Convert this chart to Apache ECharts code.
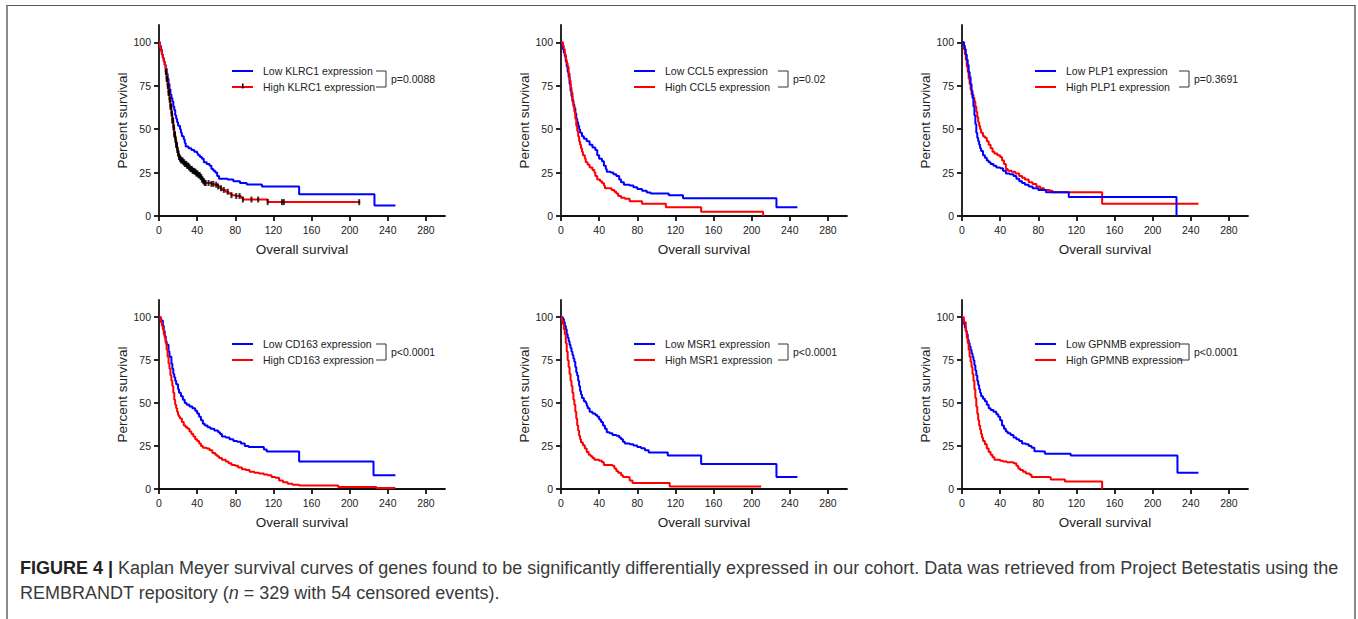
<!DOCTYPE html>
<html>
<head>
<meta charset="utf-8">
<title>Figure 4</title>
<script src="https://cdn.jsdelivr.net/npm/echarts@6.0.0/dist/echarts.min.js"></script>
<style>
  html, body { margin: 0; padding: 0; background: #fff; }
  #page { position: relative; width: 1358px; height: 619px; overflow: hidden; }
  #frame {
    position: absolute; left: 6px; top: 5px; width: 1346px; height: 700px;
    border-top: 1.5px solid #555; border-left: 2px solid #8a8a8a; border-right: 2px solid #8a8a8a;
  }
  #chart { position: absolute; left: 0; top: 0; width: 1358px; height: 540px; }
  #caption {
    position: absolute; left: 20px; top: 556px; width: 1334px;
    font-family: "Liberation Sans", Arial, sans-serif;
    font-size: 18px; line-height: 25px; color: #3a3a3a; white-space: nowrap;
  }
  #caption b { color: #222; }
</style>
</head>
<body>
<div id="page">
  <div id="frame"></div>
  <div id="chart"></div>
  <div id="caption">
    <b>FIGURE 4 |</b> Kaplan Meyer survival curves of genes found to be significantly differentially expressed in our cohort. Data was retrieved from Project Betestatis using the<br>
    REMBRANDT repository (<i>n</i> = 329 with 54 censored events).
  </div>
</div>
<script>
// 轴刻度
const xTicks = [0, 40, 80, 120, 160, 200, 240, 280];
const yTicks = [0, 25, 50, 75, 100];

// 图例文字和p值
const lowLabels = ['Low KLRC1 expression', 'Low CCL5 expression', 'Low PLP1 expression',
  'Low CD163 expression', 'Low MSR1 expression', 'Low GPNMB expression'];
const highLabels = ['High KLRC1 expression', 'High CCL5 expression', 'High PLP1 expression',
  'High CD163 expression', 'High MSR1 expression', 'High GPMNB expression'];
const pValues = ['p=0.0088', 'p=0.02', 'p=0.3691', 'p<0.0001', 'p<0.0001', 'p<0.0001'];

// Kaplan-Meier 曲线 [月, 生存率%]
const klrc1Low = [[0,100],[1,98],[2,96],[3,93],[4,91],[5,89],[6,87],[7,85],[8,82],[9,79],[10,76],[11,73],[12,70],[13,68],[14,66],[15,63],[16,61],[17,58],[18,56],[19,54],[20,52],[22,50],[23,48],[24,46],[26,44],[27,42],[28,40],[31,39],[34,38],[37,37],[40,36],[41,35],[43,34],[45,33],[47,31],[50,30],[53,29],[55,27],[57,26],[59,25],[61,23],[63,21.5],[72,21],[78,20],[85,19],[92,18.2],[108,17],[147,12.5],[226,6],[248,6]];
const klrc1High = [[0,100],[1,97],[2,95],[3,93],[4,91],[5,89],[6,87],[7,83],[8,79],[9,75],[10,71],[11,67],[12,63],[13,59],[14,55],[15,51],[16,47],[17,44],[18,41],[19,38],[20,36],[21,34],[22,33],[23,32],[25,31],[27,30],[29,29],[31,28],[33,27],[35,26],[37,25.5],[39,24.5],[41,23.5],[43,22.5],[45,21],[46,20],[48,19],[55,18.5],[58,18],[62,17],[64,16],[66,15],[70,14],[73,13],[76,12],[80,11.5],[86,10.5],[88,9.5],[114,8],[211,8]];
// KLRC1 高表达组的删失时间
const klrc1Censor = [7.2,7.6,8,8.4,8.8,9.2,9.6,10,10.4,10.8,11.2,11.6,12,12.4,12.8,13.2,13.6,14,14.4,14.8,15.2,15.6,16,16.4,16.8,17.2,17.6,18,18.4,18.8,19.2,19.6,20,20.5,21,21.5,22,22.6,23.2,24,24.8,25.5,26.3,27,27.8,28.5,29.3,30,30.8,31.5,32.3,33,33.8,34.5,35.3,36,36.8,37.5,38.3,39,39.8,40.5,41.3,42,42.8,43.5,44.3,45,45.8,46.5,47.3,48,49,52,55,57,60,62,65,68,72,76,81,84.5,88,97,104,114,129,131,210];

const ccl5Low = [[0,100],[1,98],[2,96],[3,94],[4,92],[5,89],[6,86],[7,83],[8,80],[9,76],[10,72],[11,69],[12,66],[13,64],[14,62],[15,59],[16,56],[17,54],[18,52],[19,50],[20,48],[22,46],[24,44.5],[27,43],[30,41],[33,39.5],[36,38],[38,35],[40,33],[43,31.5],[45,29],[47,27],[48,25.5],[52,25],[55,24],[58,23],[61,21],[63,19.5],[66,18],[72,17.5],[76,16.5],[80,15.5],[85,14.5],[90,13.5],[94,13],[113,12],[128,10.2],[226,5],[248,5]];
const ccl5High = [[0,100],[2,98],[3,96],[4,93],[5,90],[6,88],[7,86],[8,82],[9,78],[10,74],[11,71],[12,67],[13,63],[14,60],[15,56],[16,52],[17,49],[18,46],[19,43],[20,41],[21,39],[22,37],[23,35],[25,33],[26,31],[28,29.5],[30,28],[33,26.5],[35,25],[36,23],[38,21],[41,20],[43,19],[45,17.5],[46,16],[53,15],[56,14],[58,13],[60,11.5],[63,10.5],[67,10],[72,8.5],[85,7],[110,5],[147,2.5],[212,0]];

const plp1Low = [[0,100],[2,98],[3,96],[4,93],[5,90],[6,87],[7,83],[8,80],[9,76],[10,72],[11,68],[12,63],[13,58],[14,53],[15,48],[16,45],[17,43],[18,41],[19,39],[20,37.5],[22,35],[24,33.5],[26,32],[28,31],[30,30],[33,29],[36,28],[40,27.5],[43,26],[46,24.5],[50,24],[54,23],[57,21.5],[60,20],[63,19],[66,18],[70,17],[74,16],[80,15],[88,13.7],[112,11],[225,0]];
const plp1High = [[0,100],[2,96],[3,93],[4,90],[5,86],[6,83],[7,79],[8,76],[9,73],[10,70],[12,68],[13,66],[14,63],[15,60],[16,57],[17,54],[18,52],[19,50],[20,48],[22,46],[24,45],[26,43],[28,41],[30,39],[32,37],[34,36],[37,35],[40,34],[42,32],[44,30],[46,27],[48,26],[52,25.5],[56,24.5],[60,23],[63,22],[66,21],[70,19.5],[74,18.5],[78,17],[82,16],[86,15],[92,14.5],[95,13.7],[147,7],[248,7]];

const cd163Low = [[0,100],[2,98],[4,95],[5,92],[6,89],[7,86],[8,84],[10,80],[11,77],[13,73],[14,70],[15,67],[16,65],[17,63],[18,61],[20,58],[21,56],[23,54],[25,52],[27,50],[29,49],[32,48],[35,47],[38,45.5],[40,44],[42,42],[44,40],[46,38],[48,37],[51,36],[54,35],[58,34],[62,33],[64,32],[66,30.5],[70,30],[74,29],[78,28],[82,27.5],[86,26.5],[90,25],[94,24.5],[110,23],[113,21.8],[147,16],[225,8],[248,8]];
const cd163High = [[0,100],[2,97],[3,95],[4,93],[5,90],[6,88],[7,85],[8,81],[9,77],[10,73],[11,70],[12,66],[13,63],[14,60],[15,56],[16,52],[17,49],[18,47],[19,45],[20,43],[21,42],[22,41],[24,39],[26,37],[28,36],[30,35],[32,33.5],[34,32],[36,30.5],[38,29],[40,28],[42,26.5],[44,25],[46,24],[50,23.5],[53,22.5],[56,21],[59,20],[61,19],[63,18],[66,17],[70,16],[73,15],[76,14],[80,13.5],[83,12.5],[87,11.5],[91,11],[95,10],[100,9.5],[105,9],[110,8.5],[114,8],[118,7],[122,6.5],[126,5],[130,4],[135,3],[140,2.5],[147,2],[188,1.2],[228,0.6],[248,0.6]];

const msr1Low = [[0,100],[2,99],[3,97],[4,95],[5,93],[6,90],[7,88],[8,86],[9,84],[10,82],[11,80],[12,78],[13,76],[14,74],[15,71],[16,68],[17,66],[18,63],[19,60],[20,57],[21,55],[22,53],[24,51],[26,50],[27,48.5],[28,47],[30,45],[33,44],[36,43],[38,42],[40,40.5],[42,39],[44,37],[46,35],[48,33],[51,32.5],[54,31.5],[58,31],[61,30],[63,29],[65,27.5],[67,26.5],[72,26],[76,25.3],[80,24.5],[84,23.7],[88,22.5],[92,21.2],[112,19.5],[147,14.5],[226,7],[248,7]];
const msr1High = [[0,100],[1,98],[2,96],[3,93],[4,90],[5,85],[6,80],[7,75],[8,71],[9,67],[10,63],[11,60],[12,56],[13,52],[14,49],[15,45],[16,41],[17,37],[18,34],[19,31],[20,29],[21,27],[23,25.5],[25,23.5],[27,21.5],[29,20],[31,19],[33,18],[35,17],[40,16.5],[43,15.5],[45,14],[54,13.5],[56,12],[58,10.5],[60,9.5],[63,8],[65,7],[70,6.8],[72,5],[75,3.5],[114,1.5],[210,1.5]];

const gpnmbLow = [[0,100],[1,98],[2,96],[3,94],[4,92],[5,90],[6,87],[7,85],[8,83],[9,81],[10,79],[11,77],[12,75],[13,72],[14,69],[15,66],[16,63],[17,60.5],[18,58],[19,56],[20,54],[22,52.5],[24,51],[26,49],[28,47],[30,46],[33,45],[36,43.5],[38,42],[40,40],[42,37],[44,35],[46,33.5],[48,32.5],[51,31.5],[54,30],[57,29],[60,28],[63,26.5],[67,26],[70,25],[73,24],[76,22],[80,21.8],[87,20.5],[114,19.5],[226,9.5],[248,9.5]];
const gpnmbHigh = [[0,100],[2,97],[4,92],[5,88],[6,85],[7,81],[8,77],[9,74],[10,71],[11,67],[12,63],[13,58],[14,53],[15,48],[16,44],[17,40],[18,37],[19,34.5],[20,32],[21,30],[22,28],[24,26],[26,23.5],[28,21.5],[30,20],[32,18.5],[34,17],[40,16.5],[43,16],[47,15.5],[54,15],[57,13.5],[59,12],[61,11],[64,10],[67,9],[71,8.3],[73,7],[92,6.8],[93,5.5],[108,4.4],[147,0]];

const lowCurves = [klrc1Low, ccl5Low, plp1Low, cd163Low, msr1Low, gpnmbLow];
const highCurves = [klrc1High, ccl5High, plp1High, cd163High, msr1High, gpnmbHigh];

const FONT = '"Liberation Sans", Arial, sans-serif';
const colLeft = [159, 561, 962];
const rowTop = [25, 300];
const rowHeight = [191, 189];
const legendTop = [64, 337];

// 删失点落在阶梯曲线上
function stepValue(curve, t) {
  let v = curve[0][1];
  curve.forEach(p => { if (p[0] <= t) v = p[1]; });
  return v;
}

let chart = echarts.init(document.getElementById('chart'), null, { renderer: 'svg' });

let grids = [], xAxes = [], yAxes = [], series = [], legends = [], graphics = [];

for (let i = 0; i < 6; i++) {
  let col = i % 3, row = Math.floor(i / 3);
  let left = colLeft[col];
  grids.push({ left: left, top: rowTop[row], width: 286, height: rowHeight[row] });
  xAxes.push({
    gridIndex: i, type: 'value', min: 0, max: 300,
    name: 'Overall survival', nameLocation: 'middle', nameGap: 26,
    nameTextStyle: { color: '#222', fontSize: 13.5, fontFamily: FONT },
    axisLine: { lineStyle: { color: '#111', width: 1.8 } },
    axisTick: { customValues: xTicks, length: 5, lineStyle: { color: '#111', width: 1.8 } },
    axisLabel: { customValues: xTicks, margin: 8, color: '#222', fontSize: 10.5, fontFamily: FONT },
    splitLine: { show: false },
  });
  yAxes.push({
    gridIndex: i, type: 'value', min: 0, max: 110,
    name: 'Percent survival', nameLocation: 'middle', nameGap: 29,
    nameTextStyle: { color: '#222', fontSize: 13.5, fontFamily: FONT },
    axisLine: { lineStyle: { color: '#111', width: 1.8 } },
    axisTick: { customValues: yTicks, length: 5, lineStyle: { color: '#111', width: 1.8 } },
    axisLabel: { customValues: yTicks, margin: 8, color: '#222', fontSize: 10.5, fontFamily: FONT },
    splitLine: { show: false },
  });
  series.push({
    name: lowLabels[i], type: 'line', step: 'end', symbol: 'none',
    xAxisIndex: i, yAxisIndex: i, data: lowCurves[i],
    lineStyle: { color: '#0000ff', width: 2 }, itemStyle: { color: '#0000ff' },
    z: i === 2 ? 3 : 2,
  });
  series.push({
    name: highLabels[i], type: 'line', step: 'end', symbol: 'none',
    xAxisIndex: i, yAxisIndex: i, data: highCurves[i],
    lineStyle: { color: '#ff0000', width: 2 }, itemStyle: { color: '#ff0000' },
    z: i === 2 ? 2 : 3,
  });
  legends.push({
    data: [lowLabels[i], highLabels[i]], orient: 'vertical',
    left: left + 73, top: legendTop[row], padding: 0,
    icon: 'rect', itemWidth: 21, itemHeight: 2, itemGap: 2,
    selectedMode: false,
    textStyle: { color: '#222', fontSize: 10.5, lineHeight: 14, fontFamily: FONT, padding: [0, 0, 0, 5] },
  });
  // 括号和p值
  let y1 = legendTop[row] + 7, y2 = legendTop[row] + 23;
  graphics.push({
    type: 'polyline', silent: true,
    shape: { points: [[left + 217, y1], [left + 227, y1], [left + 227, y2], [left + 217, y2]] },
    style: { stroke: '#333', lineWidth: 1, fill: null },
  });
  graphics.push({
    type: 'text', silent: true, x: left + 232, y: (y1 + y2) / 2,
    style: { text: pValues[i], fill: '#222', fontSize: 10.5, fontFamily: FONT, verticalAlign: 'middle' },
  });
}

// KLRC1 删失标记
series.push({
  type: 'scatter', xAxisIndex: 0, yAxisIndex: 0, silent: true, z: 4,
  symbol: 'rect', symbolSize: [2, 6],
  itemStyle: { color: '#000' },
  data: klrc1Censor.map(t => [t, stepValue(klrc1High, t)]),
});
// 图例里的删失小竖线
graphics.push({
  type: 'rect', silent: true, z: 100,
  shape: { x: colLeft[0] + 73 + 10, y: legendTop[0] + 19.5, width: 1.5, height: 5 },
  style: { fill: '#000' },
});

chart.setOption({
  animation: false,
  backgroundColor: 'transparent',
  grid: grids,
  xAxis: xAxes,
  yAxis: yAxes,
  legend: legends,
  series: series,
  graphic: graphics,
});
</script>
</body>
</html>
